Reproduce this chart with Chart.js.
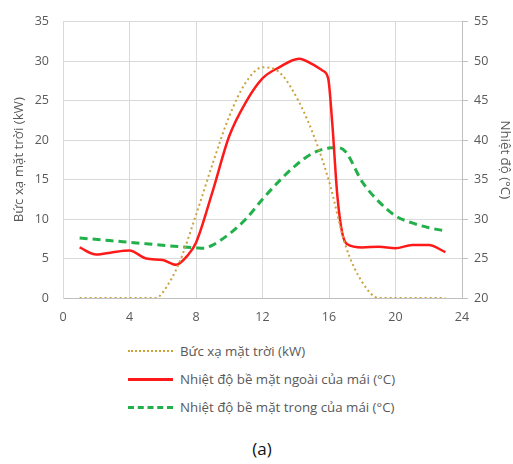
<!DOCTYPE html>
<html>
<head>
<meta charset="utf-8">
<script src="https://cdn.jsdelivr.net/npm/chart.js@4/dist/chart.umd.min.js"></script>
<style>
  body { margin: 0; background: #fff; font-family: 'Open Sans', sans-serif; }
  #wrap { position: relative; width: 513px; height: 464px; }
  #chart { position: absolute; left: 0; top: 0; }
  .legend { position: absolute; left: 128px; top: 337px; font-size: 13.3px; color: #595959; }
  .row { height: 28px; display: flex; align-items: center; }
  .swatch { width: 45px; margin-right: 7px; }
  .caption { position: absolute; left: 0; width: 524px; top: 437px; text-align: center; font-size: 17px; color: #111; }
</style>
</head>
<body>
<div id="wrap">
  <canvas id="chart" width="513" height="330"></canvas>
  <div class="legend">
    <div class="row"><span class="swatch" style="border-top: 2px dotted #c9a23a"></span>Bức xạ mặt trời (kW)</div>
    <div class="row"><span class="swatch" style="border-top: 3px solid #ff1a1a"></span>Nhiệt độ bề mặt ngoài của mái (°C)</div>
    <div class="row"><span class="swatch" style="border-top: 3px dashed #22b04b"></span>Nhiệt độ bề mặt trong của mái (°C)</div>
  </div>
  <div class="caption">(a)</div>
</div>
<script>
'use strict';
// hours and values
const solarHours = [1, 2, 3, 4, 5, 5.6, 6, 7, 8, 9, 10, 11, 12, 13, 14, 15, 16, 17, 18, 19, 20, 21, 22, 23];
const solarKW = [0, 0, 0, 0, 0, 0, 0.7, 4.5, 10.5, 17, 23, 27.3, 29.2, 28.6, 25.6, 21, 14.8, 6.6, 2, 0, 0, 0, 0, 0];

const outerHours = [1, 2, 3, 4, 5, 6, 6.8, 7.5, 8, 9, 10, 11, 12, 13, 14.2, 15, 15.6, 15.95, 16.2, 16.5, 16.8, 17.1, 18, 19, 20, 21, 22, 23];
const outerTemp = [26.4, 25.5, 25.8, 26.0, 25.0, 24.8, 24.2, 25.4, 27.0, 33.5, 40.5, 44.8, 47.8, 49.2, 50.3, 49.6, 48.8, 47.8, 42, 33, 28.2, 26.8, 26.4, 26.5, 26.3, 26.7, 26.7, 25.8];

const innerHours = [1, 4, 7, 8, 8.5, 9, 10, 11, 12, 13, 14, 15, 16, 16.5, 17, 18, 19, 20, 21, 22, 23];
const innerTemp = [27.6, 27.05, 26.5, 26.35, 26.3, 26.7, 28.1, 30.0, 32.5, 34.8, 36.8, 38.3, 39.0, 39.05, 38.5, 34.7, 32.2, 30.4, 29.5, 28.9, 28.5];

const xTicks = [0, 4, 8, 12, 16, 20, 24];

const toPoints = (xs, ys) => xs.map((x, i) => ({ x: x, y: ys[i] }));

const tickFont = { family: 'Open Sans', size: 12.5 };
const titleFont = { family: 'Open Sans', size: 13.3 };
const gray = '#595959';

const data = {
  datasets: [{
    label: 'Bức xạ mặt trời (kW)',
    data: toPoints(solarHours, solarKW),
    yAxisID: 'y',
    borderColor: '#c9a23a',
    borderWidth: 2,
    borderDash: [2, 3],
    pointRadius: 0,
    cubicInterpolationMode: 'monotone'
  }, {
    label: 'Nhiệt độ bề mặt ngoài của mái (°C)',
    data: toPoints(outerHours, outerTemp),
    yAxisID: 'y2',
    borderColor: '#ff1a1a',
    borderWidth: 2.5,
    pointRadius: 0,
    cubicInterpolationMode: 'monotone'
  }, {
    label: 'Nhiệt độ bề mặt trong của mái (°C)',
    data: toPoints(innerHours, innerTemp),
    yAxisID: 'y2',
    borderColor: '#22b04b',
    borderWidth: 3,
    borderDash: [8, 5],
    pointRadius: 0,
    cubicInterpolationMode: 'monotone'
  }]
};

const config = {
  type: 'line',
  data: data,
  options: {
    responsive: false,
    animation: false,
    layout: { padding: { top: 10, left: 11, right: 0, bottom: 0 } },
    plugins: { legend: { display: false }, tooltip: { enabled: false } },
    scales: {
      x: {
        type: 'linear',
        min: 0,
        max: 24,
        afterBuildTicks: scale => { scale.ticks = xTicks.map(v => ({ value: v })); },
        grid: { color: '#d9d9d9', tickLength: 0 },
        border: { color: '#bfbfbf' },
        ticks: { color: gray, font: tickFont, padding: 12 },
        afterFit: scale => { scale.height = 32; }
      },
      y: {
        position: 'left',
        min: 0,
        max: 35,
        ticks: { stepSize: 5, color: gray, font: tickFont, padding: 14 },
        grid: { color: '#d9d9d9', tickLength: 0 },
        border: { color: '#d9d9d9' },
        title: { display: true, text: 'Bức xạ mặt trời (kW)', color: gray, font: titleFont, padding: 0 },
        afterFit: scale => { scale.width = 52; }
      },
      y2: {
        position: 'right',
        min: 20,
        max: 55,
        ticks: { stepSize: 5, color: gray, font: tickFont, padding: 6 },
        grid: { drawOnChartArea: false, color: '#bfbfbf', tickLength: 6 },
        border: { color: '#bfbfbf' },
        title: { display: true, text: 'Nhiệt độ (°C)', color: gray, font: titleFont, padding: 0 },
        afterFit: scale => { scale.width = 51; }
      }
    }
  }
};

const canvasElem = document.getElementById('chart');
const myChart = new Chart(canvasElem, config);
</script>
</body>
</html>
